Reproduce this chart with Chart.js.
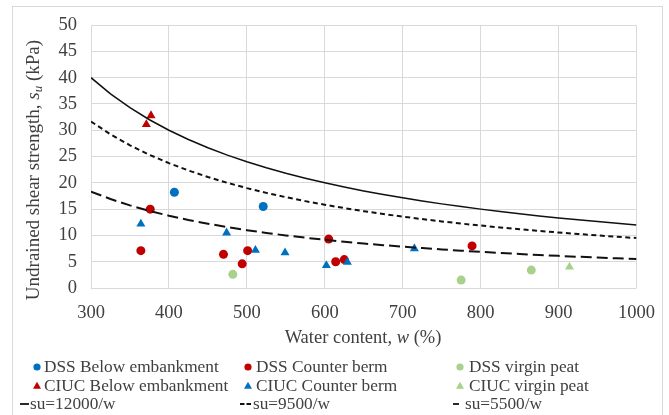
<!DOCTYPE html>
<html>
<head>
<meta charset="utf-8">
<script src="https://cdn.jsdelivr.net/npm/chart.js@4/dist/chart.umd.min.js"></script>
<style>
  html, body { margin: 0; padding: 0; background: #fff; }
  #wrap { position: relative; width: 669px; height: 415px; overflow: hidden; background: #fff;
          font-family: "Liberation Serif", "Times New Roman", serif; color: #404040; }
  #frame { position: absolute; left: 12px; top: 6px; width: 651px; height: 420px;
           border: 1px solid #d9d9d9; box-sizing: border-box; }
  canvas { position: absolute; left: 0; top: 0; }
  .ttl { position: absolute; white-space: nowrap; line-height: 20px; }
  .ttl sub { font-size: 0.68em; line-height: 0; vertical-align: -0.25em; }
  .leg { position: absolute; white-space: nowrap; font-size: 17.3px; line-height: 18px; }
  .key { position: absolute; overflow: visible; }
</style>
</head>
<body>
<div id="wrap">
  <div id="frame"></div>
  <canvas id="c" width="669" height="415" style="width:669px;height:415px"></canvas>
  <div class="ttl" id="ytitle">Undrained shear strength, <i>s</i><sub><i>u</i></sub> (kPa)</div>
  <div class="ttl" id="xtitle">Water content, <i>w</i> (%)</div>
  <div id="legend"></div>
</div>
<script>
// Water content w (%) and undrained shear strength su (kPa) for each test group
const dssBelowW   = [407, 521];
const dssBelowSu  = [18.2, 15.5];
const dssBermW    = [364, 376, 470, 494, 501, 605, 614, 625, 789];
const dssBermSu   = [7.1, 15.0, 6.4, 4.6, 7.1, 9.3, 5.0, 5.4, 8.0];
const dssVirginW  = [482, 775, 865];
const dssVirginSu = [2.6, 1.5, 3.4];
const ciucBelowW  = [371, 377];
const ciucBelowSu = [31.1, 32.8];
const ciucBermW   = [364, 474, 511, 549, 602, 629, 715];
const ciucBermSu  = [12.2, 10.5, 7.2, 6.7, 4.3, 4.9, 7.5];
const ciucVirginW = [914];
const ciucVirginSu = [4.0];

// Trend curves su = k / w
const curveK = [12000, 9500, 5500];
const curveW = [300, 325, 350, 375, 400, 425, 450, 475, 500, 525, 550, 575, 600, 625, 650,
                675, 700, 725, 750, 775, 800, 825, 850, 875, 900, 925, 950, 975, 1000];

// Axis ticks
const xTicks = [300, 400, 500, 600, 700, 800, 900, 1000];
const yTicks = [0, 5, 10, 15, 20, 25, 30, 35, 40, 45, 50];

const BLUE = '#0070C0', RED = '#C00000', GREEN = '#A9D18E';

function points(label, ws, sus, color, style) {
  return {
    label,
    data: ws.map((w, i) => ({ x: w, y: sus[i] })),
    showLine: false,
    pointStyle: style,
    pointRadius: style === 'circle' ? 4.5 : 5.2,
    pointBorderWidth: 0,
    backgroundColor: color,
    borderColor: color
  };
}

function curve(k, dash, width) {
  return {
    label: 'su=' + k + '/w',
    data: curveW.map(w => ({ x: w, y: k / w })),
    showLine: true,
    pointRadius: 0,
    borderColor: '#111',
    backgroundColor: '#111',
    borderWidth: width,
    borderDash: dash,
    fill: false,
    tension: 0
  };
}

const datasets = [
  points('DSS Below embankment', dssBelowW, dssBelowSu, BLUE, 'circle'),
  points('DSS Counter berm', dssBermW, dssBermSu, RED, 'circle'),
  points('DSS virgin peat', dssVirginW, dssVirginSu, GREEN, 'circle'),
  points('CIUC Below embankment', ciucBelowW, ciucBelowSu, RED, 'triangle'),
  points('CIUC Counter berm', ciucBermW, ciucBermSu, BLUE, 'triangle'),
  points('CIUC virgin peat', ciucVirginW, ciucVirginSu, GREEN, 'triangle'),
  curve(curveK[0], [], 1.5),
  curve(curveK[1], [5, 3.5], 2),
  curve(curveK[2], [11, 5], 2)
];
// later series are painted over earlier ones
datasets.forEach((d, i) => { d.order = datasets.length - i; });

const tickFont = { family: 'Liberation Serif', size: 18.5 };

const chart = new Chart(document.getElementById('c'), {
  type: 'scatter',
  data: { datasets },
  options: {
    responsive: false,
    animation: false,
    events: [],
    layout: { padding: { left: 13, top: 20, right: 32, bottom: 97 } },
    plugins: { legend: { display: false }, tooltip: { enabled: false } },
    scales: {
      x: {
        type: 'linear', min: 300, max: 1000,
        afterBuildTicks: a => { a.ticks = xTicks.map(v => ({ value: v })); },
        afterFit: s => { s.height = 30; },
        grid: { color: '#d9d9d9', lineWidth: 1, drawTicks: false },
        border: { display: false },
        ticks: { padding: 14, color: '#404040', font: tickFont, maxRotation: 0, autoSkip: false,
                 callback: v => String(v) }
      },
      y: {
        type: 'linear', min: 0, max: 50,
        afterBuildTicks: a => { a.ticks = yTicks.map(v => ({ value: v })); },
        afterFit: s => { s.width = 78; },
        grid: { color: '#d9d9d9', lineWidth: 1, drawTicks: false },
        border: { display: false },
        ticks: { padding: 14, color: '#404040', font: tickFont, autoSkip: false,
                 callback: v => String(v) }
      }
    }
  }
});

// Axis titles, centred at fixed spots beside the plot area
const yt = document.getElementById('ytitle');
yt.style.fontSize = '19px';
yt.style.left = '33px';
yt.style.top = '170px';
yt.style.transform = 'translate(-50%, -50%) rotate(-90deg)';

const xt = document.getElementById('xtitle');
xt.style.fontSize = '18.5px';
xt.style.left = '363px';
xt.style.top = '327px';
xt.style.transform = 'translateX(-50%)';

// Legend: three columns, filled row by row in series order
const legCols = [
  { mark: 37, text: 44, keyFrom: 20, keyTo: 29, lineText: 30 },
  { mark: 248, text: 256, keyFrom: 240, keyTo: 252, lineText: 253 },
  { mark: 460, text: 469, keyFrom: 453, keyTo: 459, lineText: 465 }
];
const legRows = [367, 386, 403.5];
const SVGNS = 'http://www.w3.org/2000/svg';
const legend = document.getElementById('legend');

chart.data.datasets.forEach((ds, i) => {
  const col = legCols[i % 3];
  const cy = legRows[Math.floor(i / 3)];
  const svg = document.createElementNS(SVGNS, 'svg');
  svg.setAttribute('class', 'key');
  let textX;
  if (ds.showLine) {
    const w = col.keyTo - col.keyFrom;
    svg.setAttribute('width', w);
    svg.setAttribute('height', 8);
    svg.style.left = col.keyFrom + 'px';
    svg.style.top = (cy - 4) + 'px';
    const ln = document.createElementNS(SVGNS, 'line');
    ln.setAttribute('x1', 0); ln.setAttribute('x2', w);
    ln.setAttribute('y1', 4); ln.setAttribute('y2', 4);
    ln.setAttribute('stroke', ds.borderColor);
    ln.setAttribute('stroke-width', 1.8);
    if (ds.borderDash.length) ln.setAttribute('stroke-dasharray', ds.label.indexOf('9500') >= 0 ? '4.5 2' : '6 4');
    svg.appendChild(ln);
    textX = col.lineText;
  } else {
    svg.setAttribute('width', 12);
    svg.setAttribute('height', 12);
    svg.style.left = (col.mark - 6) + 'px';
    svg.style.top = (cy - 6) + 'px';
    let shape;
    if (ds.pointStyle === 'circle') {
      shape = document.createElementNS(SVGNS, 'circle');
      shape.setAttribute('cx', 6); shape.setAttribute('cy', 6); shape.setAttribute('r', 3.6);
    } else {
      shape = document.createElementNS(SVGNS, 'polygon');
      shape.setAttribute('points', '6,1.8 10,8.8 2,8.8');
    }
    shape.setAttribute('fill', ds.backgroundColor);
    svg.appendChild(shape);
    textX = col.text;
  }
  legend.appendChild(svg);
  const t = document.createElement('div');
  t.className = 'leg';
  t.textContent = ds.label;
  t.style.left = textX + 'px';
  t.style.top = (cy - 9) + 'px';
  legend.appendChild(t);
});
</script>
</body>
</html>
